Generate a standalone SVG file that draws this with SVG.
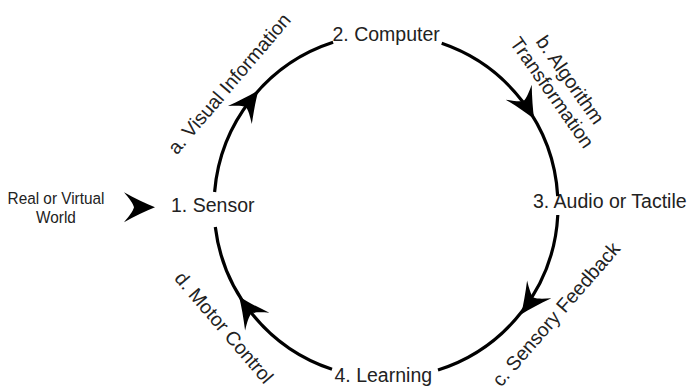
<svg xmlns="http://www.w3.org/2000/svg" width="691" height="391" viewBox="0 0 691 391">
<defs>
<style>
text{font-family:"Liberation Sans",Arial,sans-serif;fill:#222}
.node{font-size:19.5px}
.lbl{font-size:19.5px;text-anchor:middle}
.world{font-size:16.5px;text-anchor:middle}
.arc{fill:none;stroke:#000;stroke-width:3.2;stroke-linecap:butt}
.head{fill:#000;stroke:none}
</style>
<path id="ah" d="M0,0 C-9,-3.5 -20,-9 -31,-15 C-26,-9 -22,-4 -21,0 C-22,4 -26,9 -31,15 C-20,9 -9,3.5 0,0 Z"/>
</defs>
<rect width="691" height="391" fill="#fff"/>

<g id="world">
<g transform="translate(56,0) scale(0.93,1)">
<text class="world" x="0" y="204">Real or Virtual</text>
<text class="world" x="0" y="222.7">World</text>
</g>
</g>

<g id="node-sensor"><text class="node" x="171" y="212">1. Sensor</text></g>
<g id="node-computer"><text class="node" x="332.5" y="40.5">2. Computer</text></g>
<g id="node-audio"><text class="node" x="533" y="208">3. Audio or Tactile</text></g>
<g id="node-learning"><text class="node" x="334.5" y="382">4. Learning</text></g>

<g id="connectors">
<use href="#ah" class="head" transform="translate(155,207.3)"/>
<path class="arc" d="M214.6,192 A172,172 0 0 1 333.1,42.3"/>
<use href="#ah" class="head" transform="translate(258.5,90.3) rotate(-53)"/>
<path class="arc" d="M441.7,43.3 A172,172 0 0 1 557.7,196.1"/>
<use href="#ah" class="head" transform="translate(534.2,119) rotate(60)"/>
<path class="arc" d="M557.8,215 A172,172 0 0 1 438,370"/>
<use href="#ah" class="head" transform="translate(521,314.5) rotate(126)"/>
<path class="arc" d="M332,369.3 A172,172 0 0 1 215.3,227"/>
<use href="#ah" class="head" transform="translate(239,296.5) rotate(234)"/>
</g>

<g id="connector-labels">
<text class="lbl" transform="translate(234.3,88) rotate(-49.5)">a. Visual Information</text>
<g transform="translate(564.7,83.7) rotate(55)">
<text class="lbl" x="0" y="0">b. Algorithm</text>
<text class="lbl" x="0" y="22">Transformation</text>
</g>
<text class="lbl" transform="translate(561,318.6) rotate(-49)">c. Sensory Feedback</text>
<text class="lbl" transform="translate(218.9,331.9) rotate(49.4)">d. Motor Control</text>
</g>
</svg>
